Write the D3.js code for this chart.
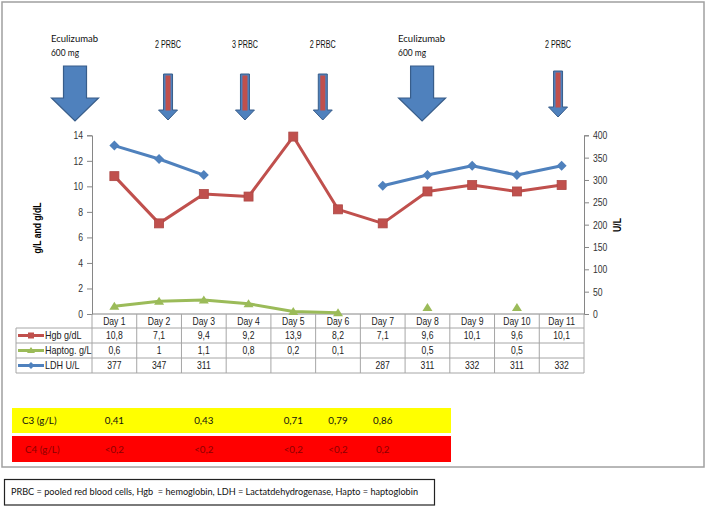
<!DOCTYPE html>
<html><head><meta charset="utf-8">
<script src="https://cdn.jsdelivr.net/npm/d3@7"></script>
<style>
body{margin:0;background:#fff;}
svg{display:block;}
.narrow{font-family:"Liberation Sans",Arial,sans-serif;}
.cal{font-family:Lato,"Open Sans",sans-serif;}
</style></head>
<body>
<svg id="chart" width="708" height="506"></svg>
<script>
// ---------- data ----------
const days = ["Day 1","Day 2","Day 3","Day 4","Day 5","Day 6","Day 7","Day 8","Day 9","Day 10","Day 11"];
const hgb = [10.8, 7.1, 9.4, 9.2, 13.9, 8.2, 7.1, 9.6, 10.1, 9.6, 10.1];
const hapto = [0.6, 1, 1.1, 0.8, 0.2, 0.1, null, 0.5, null, 0.5, null];
const ldh = [377, 347, 311, null, null, null, 287, 311, 332, 311, 332];
const leftTicks = [0, 2, 4, 6, 8, 10, 12, 14];
const rightTicks = [0, 50, 100, 150, 200, 250, 300, 350, 400];
const seriesNames = ["Hgb g/dL", "Haptog. g/L", "LDH U/L"];
// treatment annotations (position on the day axis)
const treatLabels = [["Eculizumab","600 mg"], ["2 PRBC"], ["3 PRBC"], ["2 PRBC"], ["Eculizumab","600 mg"], ["2 PRBC"]];
const treatDay = [0.12, 2.2, 3.92, 5.66, 7.88, 10.92];
const treatType = ["ecu", "prbc", "prbc", "prbc", "ecu", "prbc"];
// complement table
const c3Days = [1, 3, 5, 6, 7];
const c3Values = ["0,41", "0,43", "0,71", "0,79", "0,86"];
const c4Days = [1, 3, 5, 6, 7];
const c4Values = ["<0,2", "<0,2", "<0,2", "<0,2", "0,2"];
const footnote = "PRBC = pooled red blood cells, Hgb  = hemoglobin, LDH = Lactatdehydrogenase, Hapto = haptoglobin";

// ---------- layout ----------
const svg = d3.select("#chart");
const L = 92, R = 584, T = 135.3, B = 314;
const x = d3.scaleBand().domain(days).range([L, R]);
const xd = d3.scaleLinear().domain([0.5, 11.5]).range([L, R]);
const yL = d3.scaleLinear().domain([0, 14]).range([B, T]);
const yR = d3.scaleLinear().domain([0, 400]).range([B, T]);
const cx = i => x(days[i]) + x.bandwidth() / 2;
const SX = 0.82;

const RED = "#c0504d", GREEN = "#9bbb59", BLUE = "#4f81bd", AX = "#868686", GRID = "#a6a6a6";

// narrow text helper (condensed sans)
function ntext(g, px, py, str, anchor, opts = {}) {
  return g.append("text").attr("class", "narrow")
    .attr("transform", `translate(${px},${py}) scale(${opts.sx || SX},1)`)
    .attr("dy", "0.35em").attr("text-anchor", anchor || "start")
    .attr("font-size", opts.size || 10.5).attr("font-weight", opts.weight || "normal")
    .attr("fill", opts.fill || "#222").text(str);
}

// outer frame
svg.append("rect").attr("x", 2).attr("y", 2).attr("width", 702).attr("height", 465)
  .attr("fill", "none").attr("stroke", "#a0a0a0").attr("stroke-width", 1.5);

// ---------- axes ----------
const axL = svg.append("g").attr("transform", `translate(${L},0)`)
  .call(d3.axisLeft(yL).tickValues(leftTicks).tickSize(5).tickPadding(4).tickFormat(d3.format("d")));
const axR = svg.append("g").attr("transform", `translate(${R},0)`)
  .call(d3.axisRight(yR).tickValues(rightTicks).tickSize(5).tickPadding(4).tickFormat(d3.format("d")));
[axL, axR].forEach((a, k) => {
  a.select(".domain").attr("stroke", AX);
  a.selectAll(".tick line").attr("stroke", AX);
  a.selectAll(".tick text").attr("class", "narrow").attr("font-size", 10.5).attr("fill", "#333")
    .attr("x", null).attr("transform", `translate(${k === 0 ? -9 : 9},0) scale(${SX},1)`);
});
svg.append("text").attr("class", "narrow").attr("font-weight", "bold").attr("font-size", 10.5)
  .attr("transform", `translate(37,228) rotate(-90) scale(${SX},1)`).attr("text-anchor", "middle").attr("dy", "0.35em").text("g/L and g/dL");
svg.append("text").attr("class", "narrow").attr("font-weight", "bold").attr("font-size", 10.5)
  .attr("transform", `translate(617,225) rotate(-90) scale(${SX},1)`).attr("text-anchor", "middle").attr("dy", "0.35em").text("U/L");

// ---------- data table ----------
const rowH = 15, hdrTop = B, hdrBot = B + 14;
const rowsTop = hdrBot;
const tbl = svg.append("g");
tbl.append("line").attr("x1", L).attr("x2", R).attr("y1", hdrTop).attr("y2", hdrTop).attr("stroke", AX);
for (let r = 0; r <= 3; r++) {
  const yy = rowsTop + r * rowH;
  tbl.append("line").attr("x1", 16).attr("x2", R).attr("y1", yy).attr("y2", yy).attr("stroke", GRID);
}
tbl.append("line").attr("x1", 16).attr("x2", 16).attr("y1", rowsTop).attr("y2", rowsTop + 3 * rowH).attr("stroke", GRID);
days.forEach((d) => {
  tbl.append("line").attr("x1", x(d)).attr("x2", x(d)).attr("y1", hdrTop).attr("y2", rowsTop + 3 * rowH).attr("stroke", GRID);
});
tbl.append("line").attr("x1", R).attr("x2", R).attr("y1", hdrTop).attr("y2", rowsTop + 3 * rowH).attr("stroke", GRID);
days.forEach((d, i) => ntext(tbl, cx(i), hdrTop + 7.5, d, "middle"));

const fmt = v => v == null ? "" : String(v).replace(".", ",");
const seriesData = [hgb, hapto, ldh];
const seriesColors = [RED, GREEN, BLUE];

function marker(g, type, color, px, py) {
  if (type === "square") {
    g.append("rect").attr("x", px - 4.5).attr("y", py - 4.5).attr("width", 9).attr("height", 9)
      .attr("fill", color).attr("stroke", d3.color(color).darker(0.3)).attr("stroke-width", 0.8);
  } else if (type === "triangle") {
    g.append("path").attr("d", `M${px},${py - 4.5}L${px + 5},${py + 3.5}L${px - 5},${py + 3.5}Z`)
      .attr("fill", color);
  } else {
    g.append("path").attr("d", `M${px},${py - 5}L${px + 5},${py}L${px},${py + 5}L${px - 5},${py}Z`)
      .attr("fill", color);
  }
}

seriesNames.forEach((name, r) => {
  const yy = rowsTop + r * rowH + rowH / 2;
  tbl.append("line").attr("x1", 18).attr("x2", 44).attr("y1", yy).attr("y2", yy)
    .attr("stroke", seriesColors[r]).attr("stroke-width", 3);
  if (r === 0) tbl.append("rect").attr("x", 28).attr("y", yy - 3).attr("width", 6).attr("height", 6).attr("fill", RED);
  if (r === 1) tbl.append("path").attr("d", `M31,${yy - 3.5}L35,${yy + 2.5}L27,${yy + 2.5}Z`).attr("fill", GREEN);
  if (r === 2) tbl.append("path").attr("d", `M31,${yy - 3.5}L34.5,${yy}L31,${yy + 3.5}L27.5,${yy}Z`).attr("fill", BLUE);
  ntext(tbl, 45, yy, name, "start", { sx: 0.86 });
  seriesData[r].forEach((v, i) => ntext(tbl, cx(i), yy, fmt(v), "middle"));
});

// ---------- lines ----------
const plot = svg.append("g");
const mkLine = (yS) => d3.line().defined(v => v != null).x((v, i) => cx(i)).y(v => yS(v));
plot.append("path").attr("d", mkLine(yR)(ldh)).attr("fill", "none").attr("stroke", BLUE).attr("stroke-width", 3).attr("stroke-linejoin", "round");
plot.append("path").attr("d", mkLine(yL)(hgb)).attr("fill", "none").attr("stroke", RED).attr("stroke-width", 3).attr("stroke-linejoin", "round");
plot.append("path").attr("d", mkLine(yL)(hapto)).attr("fill", "none").attr("stroke", GREEN).attr("stroke-width", 3).attr("stroke-linejoin", "round");
ldh.forEach((v, i) => { if (v != null) marker(plot, "diamond", BLUE, cx(i), yR(v)); });
hgb.forEach((v, i) => { if (v != null) marker(plot, "square", RED, cx(i), yL(v)); });
hapto.forEach((v, i) => { if (v != null) marker(plot, "triangle", GREEN, cx(i), yL(v)); });

// ---------- treatment arrows ----------
const ann = svg.append("g");
treatDay.forEach((d, k) => {
  const ax = xd(d);
  if (treatType[k] === "ecu") {
    const top = 66, hs = 98, tip = 121, sw = 11.5, hw = 23.5;
    ann.append("path").attr("d", `M${ax - sw},${top}H${ax + sw}V${hs}H${ax + hw}L${ax},${tip}L${ax - hw},${hs}H${ax - sw}Z`)
      .attr("fill", BLUE).attr("stroke", "#385d8a").attr("stroke-width", 1.2);
    ann.append("text").attr("class", "cal").attr("x", ax - 24).attr("y", 42).attr("font-size", 9.8).attr("fill", "#111")
      .attr("textLength", 47).attr("lengthAdjust", "spacingAndGlyphs").text(treatLabels[k][0]);
    ann.append("text").attr("class", "cal").attr("x", ax - 24).attr("y", 56).attr("font-size", 9.8).attr("fill", "#111")
      .attr("textLength", 28).attr("lengthAdjust", "spacingAndGlyphs").text(treatLabels[k][1]);
  } else {
    const last = k === treatDay.length - 1;
    const top = last ? 71 : 74, tip = last ? 117 : 120, hs = tip - 10, sw = 4.5, hw = 9.5;
    ann.append("path").attr("d", `M${ax - sw},${top}H${ax + sw}V${hs}H${ax + hw}L${ax},${tip}L${ax - hw},${hs}H${ax - sw}Z`)
      .attr("fill", BLUE).attr("stroke", "#385d8a").attr("stroke-width", 1);
    ann.append("rect").attr("x", ax - 2.5).attr("y", top + 1.5).attr("width", 5).attr("height", hs - top - 1)
      .attr("fill", RED);
    ntext(ann, ax, 44, treatLabels[k][0], "middle", { size: 10, fill: "#111", sx: 0.72 });
  }
});

// ---------- complement bands ----------
const comp = svg.append("g");
comp.append("rect").attr("x", 12).attr("y", 408).attr("width", 439).attr("height", 25).attr("fill", "#ffff00");
comp.append("rect").attr("x", 12).attr("y", 436).attr("width", 439).attr("height", 26).attr("fill", "#ff0000");
comp.append("text").attr("class", "cal").attr("x", 22).attr("y", 421).attr("dy", "0.35em").attr("font-size", 9.8).attr("fill", "#111").text("C3 (g/L)");
comp.append("text").attr("class", "cal").attr("x", 25).attr("y", 450).attr("dy", "0.35em").attr("font-size", 9.8).attr("fill", "#8b0000").text("C4 (g/L)");
c3Days.forEach((d, i) => {
  comp.append("text").attr("class", "cal").attr("x", xd(d)).attr("y", 421).attr("dy", "0.35em")
    .attr("text-anchor", "middle").attr("font-size", 9.8).attr("fill", "#111").text(c3Values[i]);
});
c4Days.forEach((d, i) => {
  comp.append("text").attr("class", "cal").attr("x", xd(d)).attr("y", 450).attr("dy", "0.35em")
    .attr("text-anchor", "middle").attr("font-size", 9.8).attr("fill", "#8b0000").text(c4Values[i]);
});

// ---------- footnote ----------
svg.append("rect").attr("x", 4.5).attr("y", 479.5).attr("width", 430).attr("height", 25.5)
  .attr("fill", "none").attr("stroke", "#222").attr("stroke-width", 1.2);
svg.append("text").attr("class", "cal").attr("x", 11).attr("y", 492).attr("dy", "0.35em")
  .attr("font-size", 9.6).attr("fill", "#111").style("white-space", "pre")
  .attr("textLength", 407).attr("lengthAdjust", "spacingAndGlyphs").text(footnote);
</script>
</body></html>
